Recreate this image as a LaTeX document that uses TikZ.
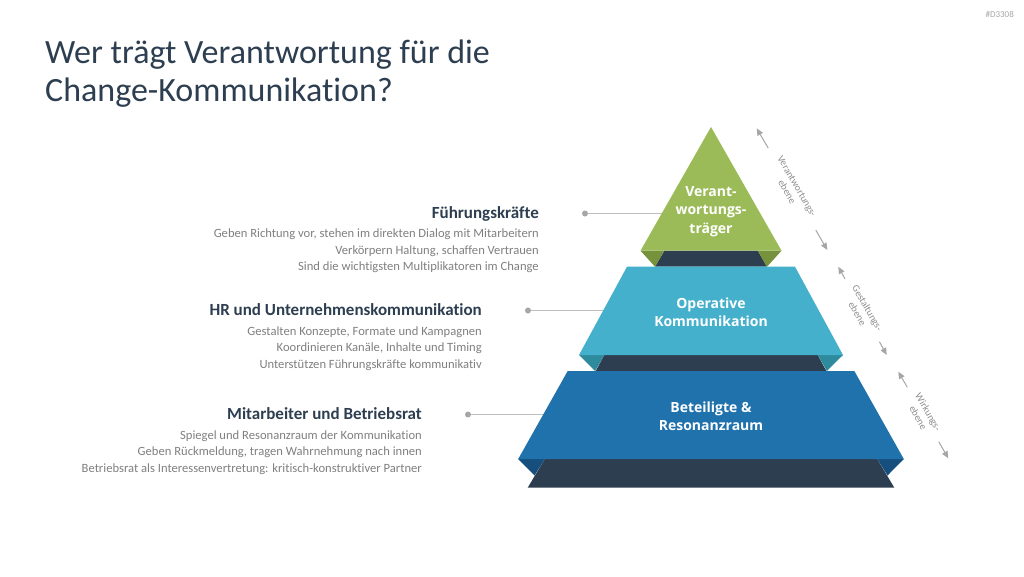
\documentclass[tikz,border=0pt]{standalone}
\usepackage{fontspec}
\setmainfont{Carlito}[Ligatures=NoCommon]
\newfontfamily\lblfont{Open Sans}
\usetikzlibrary{arrows.meta,calc}
\definecolor{navy}{HTML}{2C3E50}
\definecolor{bandnavy}{HTML}{2D3E50}
\definecolor{lvlgreen}{HTML}{9BBB59}
\definecolor{flapgreen}{HTML}{76923C}
\definecolor{lvllight}{HTML}{45B0CB}
\definecolor{flaplight}{HTML}{2E8B9E}
\definecolor{lvldark}{HTML}{1F72AB}
\definecolor{flapdark}{HTML}{164F7D}
\definecolor{desccol}{HTML}{7F7F7F}
\definecolor{linecol}{HTML}{BFBFBF}
\definecolor{dotcol}{HTML}{A6A6A6}
\definecolor{sidecol}{HTML}{8C8C8C}
\tikzset{
  titletext/.style={anchor=base west, inner sep=0, text=navy, font=\fontsize{34}{38}\selectfont},
  headtext/.style={anchor=base east, inner sep=0, text=navy, font=\bfseries\fontsize{17}{20}\selectfont},
  desctext/.style={anchor=base east, inner sep=0, text=desccol, font=\fontsize{12.6}{14}\selectfont},
  lvltext/.style={align=center, inner sep=0, text=white, font=\lblfont\bfseries\fontsize{14}{18.5}\selectfont},
  sidetext/.style={align=center, inner sep=0, text=sidecol, rotate=-60, font=\fontsize{10}{11.5}\selectfont},
  sidearrow/.style={draw=dotcol, line width=1pt, -{Triangle[length=7pt,width=6pt]}},
  connline/.style={draw=linecol, line width=1.6pt},
  dotnode/.style={circle, fill=dotcol, minimum size=6pt, inner sep=0},
}
\begin{document}
\begin{tikzpicture}[x=1pt,y=-1pt]
\useasboundingbox (0,0) rectangle (1024,576);

% ID
\node[anchor=east, inner sep=0, text=dotcol, font=\fontsize{9}{10}\selectfont] (id) at (1014,14) {\#D3308};

% Title
\node[titletext] (title1) at (45,63) {Wer trägt Verantwortung für die};
\node[titletext] (title2) at (45,101) {Change-Kommunikation?};

% Left texts
\node[headtext] (h1) at (539,218) {Führungskräfte};
\node[desctext] (d11) at (539,237.5) {Geben Richtung vor, stehen im direkten Dialog mit Mitarbeitern};
\node[desctext] (d12) at (539,254) {Verkörpern Haltung, schaffen Vertrauen};
\node[desctext] (d13) at (539,270.5) {Sind die wichtigsten Multiplikatoren im Change};

\node[headtext] (h2) at (482,315.5) {HR und Unternehmenskommunikation};
\node[desctext] (d21) at (482,335) {Gestalten Konzepte, Formate und Kampagnen};
\node[desctext] (d22) at (482,351.5) {Koordinieren Kanäle, Inhalte und Timing};
\node[desctext] (d23) at (482,368) {Unterstützen Führungskräfte kommunikativ};

\node[headtext] (h3) at (422,419.5) {Mitarbeiter und Betriebsrat};
\node[desctext] (d31) at (422,439) {Spiegel und Resonanzraum der Kommunikation};
\node[desctext] (d32) at (422,455.5) {Geben Rückmeldung, tragen Wahrnehmung nach innen};
\node[desctext] (d33) at (422,472) {Betriebsrat als Interessenvertretung: kritisch-konstruktiver Partner};

% Connectors
\node[dotnode] (p1) at (585,213.5) {};
\node[dotnode] (p2) at (528,310.5) {};
\node[dotnode] (p3) at (468,414.5) {};
\coordinate (e1) at (666,213.5);
\coordinate (e2) at (608,310.5);
\coordinate (e3) at (548,414.5);
\draw[connline] (p1) -- (e1);
\draw[connline] (p2) -- (e2);
\draw[connline] (p3) -- (e3);

% Pyramid
\def\cx{711}
% green level
\fill[bandnavy] (\cx-46.7,250.7) -- (\cx+46.7,250.7) -- (\cx+56,266.7) -- (\cx-56,266.7) -- cycle;
\fill[flapgreen] (\cx-70.5,250.7) -- (\cx-46.7,250.7) -- (\cx-56,266.7) -- cycle;
\fill[flapgreen] (\cx+70.5,250.7) -- (\cx+46.7,250.7) -- (\cx+56,266.7) -- cycle;
\fill[lvlgreen] (\cx,127) -- (\cx+70.5,250.7) -- (\cx-70.5,250.7) -- cycle;
% light blue level
\fill[bandnavy] (\cx-106.7,355) -- (\cx+106.7,355) -- (\cx+115.3,371) -- (\cx-115.3,371) -- cycle;
\fill[flaplight] (\cx-132,355) -- (\cx-106.7,355) -- (\cx-115.8,371) -- cycle;
\fill[flaplight] (\cx+132,355) -- (\cx+106.7,355) -- (\cx+115.8,371) -- cycle;
\fill[lvllight] (\cx-84,266.7) -- (\cx+84,266.7) -- (\cx+132,355) -- (\cx-132,355) -- cycle;
% dark blue level
\fill[bandnavy] (\cx-166.2,459) -- (\cx+166.2,459) -- (\cx+183.3,487.7) -- (\cx-183.3,487.7) -- cycle;
\fill[flapdark] (\cx-192.8,459) -- (\cx-166.2,459) -- (\cx-176.5,475.5) -- cycle;
\fill[flapdark] (\cx+192.8,459) -- (\cx+166.2,459) -- (\cx+176.5,475.5) -- cycle;
\fill[lvldark] (\cx-143.3,371) -- (\cx+143.3,371) -- (\cx+192.8,459) -- (\cx-192.8,459) -- cycle;

% Level labels
\node[lvltext] (l1) at (\cx,211.5) {Verant-\\wortungs-\\träger};
\node[lvltext] (l2) at (\cx,312) {Operative\\Kommunikation};
\node[lvltext] (l3) at (\cx,416) {Beteiligte \&\\Resonanzraum};

% Side arrows
\coordinate (T1) at (756.7,128.3);
\coordinate (B1) at (827.3,250);
\coordinate (T2) at (838.3,266.7);
\coordinate (B2) at (886.7,355);
\coordinate (T3) at (898.3,371.7);
\coordinate (B3) at (948.3,458.3);
\coordinate (S1a) at ($(T1)!23pt!(B1)$);
\coordinate (S1b) at ($(B1)!23pt!(T1)$);
\coordinate (S2a) at ($(T2)!14pt!(B2)$);
\coordinate (S2b) at ($(B2)!15pt!(T2)$);
\coordinate (S3a) at ($(T3)!18pt!(B3)$);
\coordinate (S3b) at ($(B3)!19pt!(T3)$);
\draw[sidearrow] (S1a) -- (T1);
\draw[sidearrow] (S1b) -- (B1);
\draw[sidearrow] (S2a) -- (T2);
\draw[sidearrow] (S2b) -- (B2);
\draw[sidearrow] (S3a) -- (T3);
\draw[sidearrow] (S3b) -- (B3);
\node[sidetext] (s1) at ($(T1)!0.5!(B1)$) {Verantwortungs-\\ebene};
\node[sidetext] (s2) at ($(T2)!0.5!(B2)$) {Gestaltungs-\\ebene};
\node[sidetext] (s3) at ($(T3)!0.5!(B3)$) {Wirkungs-\\ebene};
\end{tikzpicture}
\end{document}
